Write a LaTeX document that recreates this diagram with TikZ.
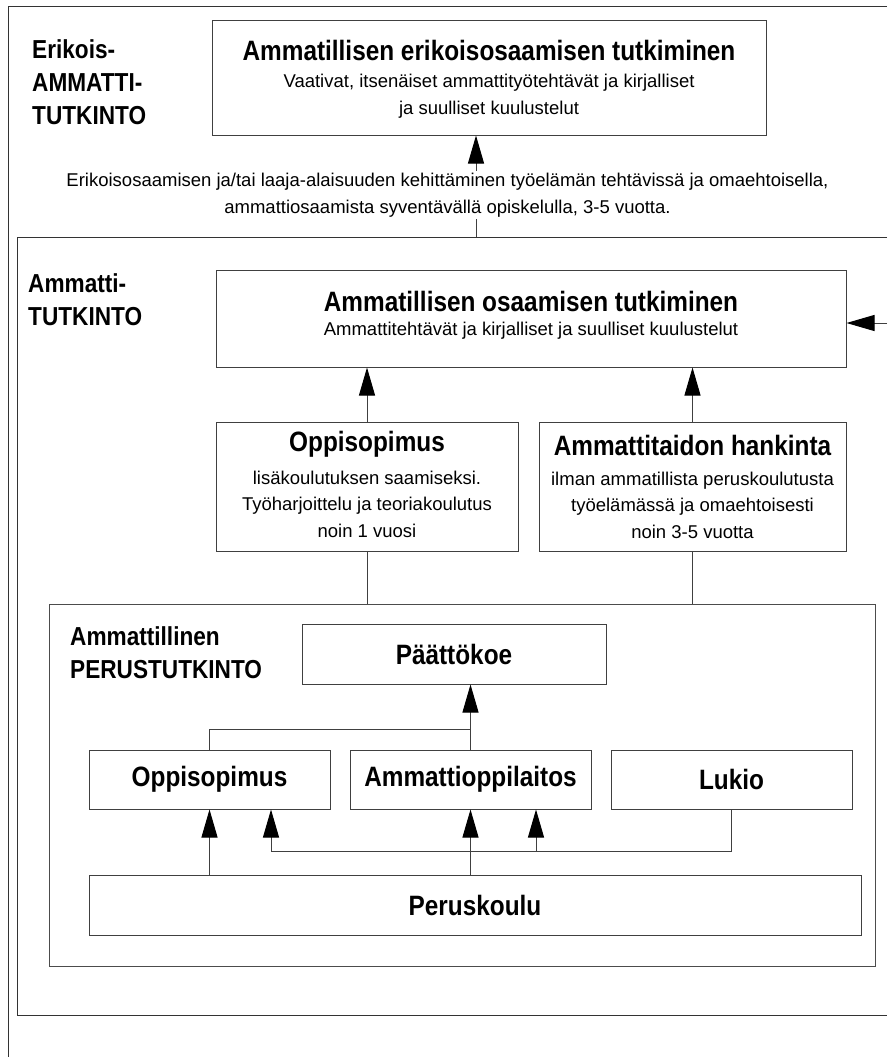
\documentclass[tikz,border=0pt]{standalone}
\usepackage{fontspec}
\setmainfont{Liberation Sans}
\newfontfamily\boldcond[FakeStretch=0.87]{Liberation Sans}
\usepackage{tikz}
\usetikzlibrary{arrows.meta}

\tikzset{
	frame/.style={draw=black!80, line width=1pt},
	box/.style={draw=black!75, line width=1pt, inner sep=0pt},
	ttl/.style={font=\boldcond\bfseries\fontsize{28}{30}\selectfont, inner sep=0pt},
	txt/.style={font=\fontsize{18.5}{26.5}\selectfont, align=center, inner sep=0pt},
	lbl/.style={font=\boldcond\bfseries\fontsize{26}{33}\selectfont, align=left, anchor=west, inner sep=0pt},
	conn/.style={draw=black!75, line width=1pt},
	arr/.style={conn, -{Triangle[length=28pt,width=16pt,color=black]}}
}

\begin{document}
\begin{tikzpicture}[x=1pt,y=-1pt]
	\useasboundingbox (0,0) rectangle (887,1057);
	\draw[frame] (887,7) -- (8,7) -- (8,1057);
	\draw[frame] (887,237) -- (17,237) -- (17,1015) -- (887,1015);
	
	\node[lbl] (erik-lbl) at (32,82) {Erikois-\\AMMATTI-\\TUTKINTO};
	\node[box, minimum width=554pt, minimum height=114pt] (erik) at (489,78) {};
	\node[ttl] (erik-ttl) at (489,50) {Ammatillisen erikoisosaamisen tutkiminen};
	\node[txt] (erik-txt) at (489,96) {Vaativat, itsenäiset ammattityötehtävät ja kirjalliset\\ja suulliset kuulustelut};
	\coordinate (erik-in) at (476,237);
	\draw[arr] (erik-in) -- (erik-in |- erik.south);
	\node[txt, fill=white, inner sep=2pt] (kehitys) at (447.5,195) {Erikoisosaamisen ja/tai laaja-alaisuuden kehittäminen työelämän tehtävissä ja omaehtoisella,\\ammattiosaamista syventävällä opiskelulla, 3-5 vuotta.};
	
	\node[lbl] (amm-lbl) at (28,300) {Ammatti-\\TUTKINTO};
	\node[box, minimum width=630pt, minimum height=97pt] (amm) at (531,318.5) {};
	\node[ttl] (amm-ttl) at (531,301) {Ammatillisen osaamisen tutkiminen};
	\node[txt] (amm-txt) at (531,331) {Ammattitehtävät ja kirjalliset ja suulliset kuulustelut};
	\coordinate (side-in) at (887,323);
	\draw[arr] (side-in) -- (side-in -| amm.east);
	
	\node[box, minimum width=302pt, minimum height=129pt] (oppi) at (367,486.5) {};
	\node[ttl] (oppi-ttl) at (367,444) {Oppisopimus};
	\node[txt] (oppi-txt) at (367,504) {lisäkoulutuksen saamiseksi.\\Työharjoittelu ja teoriakoulutus\\noin 1 vuosi};
	\node[box, minimum width=307pt, minimum height=129pt] (hank) at (692.5,486.5) {};
	\node[ttl] (hank-ttl) at (692.5,445) {Ammattitaidon hankinta};
	\node[txt] (hank-txt) at (692.5,505) {ilman ammatillista peruskoulutusta\\työelämässä ja omaehtoisesti\\noin 3-5 vuotta};
	\draw[arr] (oppi.north) -- (oppi.north |- amm.south);
	\draw[arr] (hank.north) -- (hank.north |- amm.south);
	
	\node[box, draw=black!70, minimum width=826pt, minimum height=362pt] (perus) at (462,785) {};
	\draw[conn] (oppi.south) -- (oppi.south |- perus.north);
	\draw[conn] (hank.south) -- (hank.south |- perus.north);
	\node[lbl] (perus-lbl) at (70,652.5) {Ammattillinen\\PERUSTUTKINTO};
	\node[box, ttl, minimum width=304pt, minimum height=60pt] (paat) at (454,654) {Päättökoe};
	\foreach \n/\x/\t in {opp/209.5/Oppisopimus, amo/470.5/Ammattioppilaitos, lukio/731.5/Lukio}
		\node[box, ttl, minimum width=241pt, minimum height=59pt] (\n) at (\x,779.5) {\t};
	\node[box, ttl, minimum width=772pt, minimum height=60pt] (pk) at (475,905) {Peruskoulu};
	
	\draw[arr] (amo.north) -- (amo.north |- paat.south);
	\draw[conn] (opp.north) |- (amo.north |- 0,729);
	\draw[arr] (opp.south |- pk.north) -- (opp.south);
	\draw[arr] (amo.south |- pk.north) -- (amo.south);
	\draw[arr] (lukio.south) |- ([xshift=61.5pt]opp.south |- 0,851) -- ([xshift=61.5pt]opp.south);
	\draw[arr] ([xshift=65.5pt]amo.south |- 0,851) -- ([xshift=65.5pt]amo.south);
\end{tikzpicture}
\end{document}
